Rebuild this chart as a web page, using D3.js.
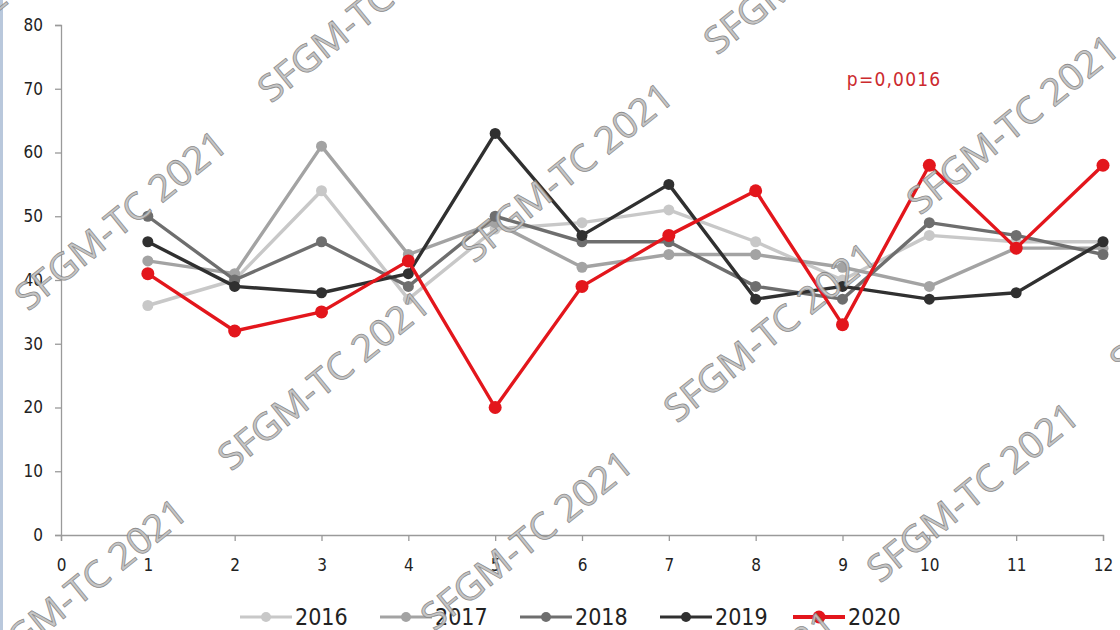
<!DOCTYPE html>
<html>
<head>
<meta charset="utf-8">
<script src="https://cdn.jsdelivr.net/npm/d3@7"></script>
<style>
  html, body { margin: 0; padding: 0; background: #fff; }
  svg { display: block; }
</style>
</head>
<body>
<svg id="chart" width="1120" height="630"></svg>
<script>
// ---- data ----
const months = [1, 2, 3, 4, 5, 6, 7, 8, 9, 10, 11, 12];
const years = ["2016", "2017", "2018", "2019", "2020"];
const v2016 = [36, 40, 54, 37, 48, 49, 51, 46, 40, 47, 46, 46];
const v2017 = [43, 41, 61, 44, 49, 42, 44, 44, 42, 39, 45, 45];
const v2018 = [50, 40, 46, 39, 50, 46, 46, 39, 37, 49, 47, 44];
const v2019 = [46, 39, 38, 41, 63, 47, 55, 37, 39, 37, 38, 46];
const v2020 = [41, 32, 35, 43, 20, 39, 47, 54, 33, 58, 45, 58];
const xTicks = [0, 1, 2, 3, 4, 5, 6, 7, 8, 9, 10, 11, 12];
const yTicks = [0, 10, 20, 30, 40, 50, 60, 70, 80];
const annotation = "p=0,0016";
const watermark = "SFGM-TC 2021";

const seriesValues = [v2016, v2017, v2018, v2019, v2020];
const colors = ["#c8c8c8", "#a3a3a3", "#6e6e6e", "#303030", "#e3161c"];

const svg = d3.select("#chart");
const W = 1120, H = 630;
const axisFont = "'DejaVu Sans Condensed', 'Liberation Sans', sans-serif";

// slide border on left
svg.append("rect").attr("x", 0).attr("y", 0).attr("width", 3).attr("height", H)
  .attr("fill", "#b9c8dc");

const x = d3.scaleLinear().domain([0, 12]).range([61, 1103]);
const y = d3.scaleLinear().domain([0, 80]).range([535, 25]);

// axes
const yAxis = d3.axisLeft(y).tickValues(yTicks).tickSize(6).tickPadding(12).tickFormat(d3.format("d"));
const gy = svg.append("g").attr("transform", `translate(${x(0)},0)`).call(yAxis);
gy.select(".domain").attr("stroke", "#9a9a9a").attr("stroke-width", 1.3);
gy.selectAll(".tick line").attr("stroke", "#9a9a9a").attr("stroke-width", 1.3);
gy.selectAll(".tick text").attr("font-family", axisFont).attr("font-size", 17).attr("fill", "#222");

const xAxis = d3.axisBottom(x).tickValues(xTicks).tickSize(6).tickPadding(18).tickFormat(d3.format("d"));
const gx = svg.append("g").attr("transform", `translate(0,${y(0)})`).call(xAxis);
gx.select(".domain").attr("stroke", "#9a9a9a").attr("stroke-width", 1.3);
gx.selectAll(".tick line").attr("stroke", "#9a9a9a").attr("stroke-width", 1.3);
gx.selectAll(".tick text").attr("font-family", axisFont).attr("font-size", 17).attr("fill", "#222");

// lines
const line = d3.line().x((d, i) => x(months[i])).y(d => y(d));
years.forEach((yr, k) => {
  const vals = seriesValues[k];
  const g = svg.append("g").attr("class", "series-" + yr);
  g.append("path").datum(vals)
    .attr("d", line)
    .attr("fill", "none")
    .attr("stroke", colors[k])
    .attr("stroke-width", 3.4)
    .attr("stroke-linejoin", "round");
  g.selectAll("circle").data(vals).join("circle")
    .attr("cx", (d, i) => x(months[i]))
    .attr("cy", d => y(d))
    .attr("r", yr === "2020" ? 6.5 : 5.5)
    .attr("fill", colors[k]);
});

// annotation
svg.append("text")
  .attr("x", x(9.05)).attr("y", y(70.4))
  .attr("font-family", axisFont)
  .attr("font-size", 19)
  .attr("letter-spacing", 1.2)
  .attr("fill", "#cc2a2e")
  .text(annotation);

// legend
const legendX = [240, 380, 520, 660, 793];
const legendY = 617;
years.forEach((yr, k) => {
  const g = svg.append("g").attr("transform", `translate(${legendX[k]},${legendY})`);
  g.append("line").attr("x1", 0).attr("x2", 52).attr("y1", 0).attr("y2", 0)
    .attr("stroke", colors[k]).attr("stroke-width", yr === "2020" ? 4 : 3.2);
  g.append("circle").attr("cx", 26).attr("cy", 0).attr("r", yr === "2020" ? 6.5 : 5).attr("fill", colors[k]);
  g.append("text").attr("x", 55).attr("y", 0).attr("dy", "0.36em")
    .attr("font-family", axisFont).attr("font-size", 23).attr("fill", "#222")
    .text(yr);
});

// watermark lattice
const wm = svg.append("g").attr("class", "watermark");
const base = [28, 312], u = [203, 160], v = [446, -48];
for (let i = -3; i <= 4; i++) {
  for (let j = -2; j <= 4; j++) {
    const px = base[0] + i * u[0] + j * v[0];
    const py = base[1] + i * u[1] + j * v[1];
    if (px < -320 || px > W + 20 || py < -20 || py > H + 230) continue;
    wm.append("text")
      .attr("transform", `translate(${px},${py}) rotate(-39)`)
      .attr("font-family", "'Open Sans', Lato, sans-serif")
      .attr("font-size", 37)
      .attr("font-weight", 400)
      .attr("textLength", 260)
      .attr("lengthAdjust", "spacingAndGlyphs")
      .attr("fill", "#c2c2c2")
      .attr("stroke", "#858585")
      .attr("stroke-width", 0.8)
      .attr("opacity", 0.92)
      .text(watermark);
  }
}
</script>
</body>
</html>
